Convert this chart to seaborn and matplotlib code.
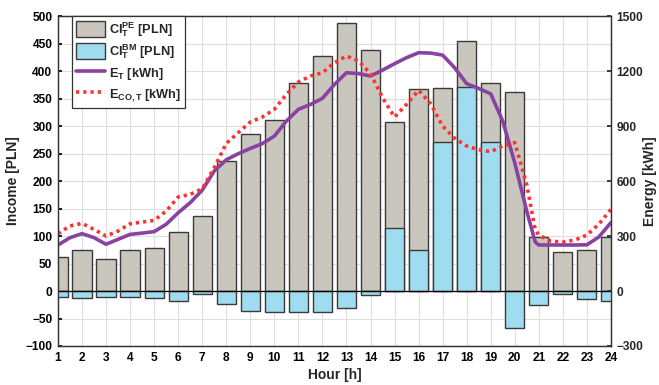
import numpy as np
import pandas as pd
import matplotlib
matplotlib.use("Agg")
import matplotlib.pyplot as plt
import seaborn as sns
from matplotlib.patches import Patch
from matplotlib.lines import Line2D

# ---------------- data ----------------
hours = list(range(1, 25))
ci_pe = [61, 75, 59, 74, 78, 108, 137, 236, 285, 311, 378, 427,
         488, 438, 308, 367, 370, 454, 378, 361, 99, 71, 74, 99]
ci_bm = [-10, -12, -10, -11, -12, -18, -5, -24, -36, -39, -39, -39,
         -30, -8, 115, 75, 271, 371, 271, -67, -25, -6, -14, -18]

t_line = [1, 1.5, 2, 2.5, 3, 3.5, 4, 4.5, 5, 5.5, 6, 6.5, 7, 7.5, 8, 8.5,
          9, 9.5, 10, 10.5, 11, 11.5, 12, 12.5, 13, 13.5, 14, 14.5, 15, 15.5,
          16, 16.5, 17, 17.5, 18, 18.5, 19, 19.5, 20, 20.5, 20.85, 21, 21.5,
          22, 22.5, 23, 23.5, 24]
e_t = [251, 291, 313, 291, 255, 282, 309, 316, 324, 364, 427, 482, 550,
       655, 716, 749, 778, 804, 845, 927, 991, 1018, 1051, 1127, 1191, 1186,
       1173, 1205, 1240, 1273, 1300, 1298, 1287, 1218, 1131, 1105, 1076, 927,
       700, 436, 268, 251, 251, 251, 251, 252, 295, 373]
e_co = [313, 355, 369, 336, 300, 327, 367, 376, 385, 436, 513, 527, 558,
        673, 805, 864, 922, 949, 991, 1073, 1140, 1173, 1191, 1245, 1282,
        1255, 1186, 1055, 949, 1018, 1095, 1022, 900, 833, 791, 771, 760, 791,
        810, 580, 335, 305, 272, 267, 278, 305, 365, 445]

left_ticks = list(range(-100, 501, 50))
right_ticks = [-300, 0, 300, 600, 900, 1200, 1500]

# ---------------- style ----------------
sns.set_theme(style="white")
plt.rcParams['font.family'] = ['Liberation Sans', 'DejaVu Sans']
plt.rcParams['font.weight'] = 'bold'
plt.rcParams['axes.labelweight'] = 'bold'
plt.rcParams['mathtext.fontset'] = 'custom'
plt.rcParams['mathtext.rm'] = 'Liberation Sans:bold'
plt.rcParams['mathtext.it'] = 'Liberation Sans:bold'
plt.rcParams['mathtext.bf'] = 'Liberation Sans:bold'

gray = '#C9C6BE'
blue = '#A0DCF0'
edge = '#3A3A3A'
purple = '#8A42A0'
red = '#FF3030'
tick_fs = 8.6

fig = plt.figure(figsize=(6.59, 3.85), dpi=100)
ax = fig.add_axes([0.088, 0.1013, 0.839, 0.857])

df = pd.DataFrame({'hour': hours, 'pe': ci_pe, 'bm': ci_bm})
sns.barplot(data=df, x='hour', y='pe', native_scale=True, width=0.8,
            color=gray, saturation=1, edgecolor=edge, linewidth=1.0,
            errorbar=None, ax=ax, zorder=2)
sns.barplot(data=df, x='hour', y='bm', native_scale=True, width=0.8,
            color=blue, saturation=1, edgecolor=edge, linewidth=1.0,
            errorbar=None, ax=ax, zorder=3)
ax.axhline(0, color='black', lw=0.9, zorder=4)

ax.set_xlim(1, 24)
ax.set_ylim(-100, 500)
ax.set_xticks(hours)
ax.set_xticklabels([str(h) for h in hours])
ax.set_yticks(left_ticks)
ax.grid(True, color='#DEDEDE', lw=0.8, zorder=0)
ax.set_axisbelow(True)
ax.set_xlabel('Hour [h]', fontsize=10, fontweight='bold', labelpad=3)
ax.set_ylabel('Income [PLN]', fontsize=10, fontweight='bold', labelpad=4)
ax.tick_params(axis='both', direction='in', length=3, labelsize=tick_fs,
               colors='black', pad=4)
for lab in ax.get_xticklabels() + ax.get_yticklabels():
    lab.set_fontweight('bold')
for s in ax.spines.values():
    s.set_color('#333333')
    s.set_linewidth(0.9)

ax2 = ax.twinx()
ldf = pd.DataFrame({'t': t_line, 'et': e_t, 'eco': e_co})
sns.lineplot(data=ldf, x='t', y='et', ax=ax2, color=purple, lw=2.6,
             sort=False)
sns.lineplot(data=ldf, x='t', y='eco', ax=ax2, color=red, lw=2.6,
             linestyle=(0, (0.9, 1.1)), sort=False)
ax2.set_ylim(-300, 1500)
ax2.set_yticks(right_ticks)
ax2.set_xlim(1, 24)
ax2.set_ylabel('Energy [kWh]', fontsize=10, fontweight='bold', labelpad=0)
ax2.tick_params(axis='y', direction='in', length=3, labelsize=tick_fs, pad=4)
for lab in ax2.get_yticklabels():
    lab.set_fontweight('bold')
for s in ax2.spines.values():
    s.set_color('#333333')
    s.set_linewidth(0.9)

handles = [
    Patch(facecolor=gray, edgecolor=edge, linewidth=1.0),
    Patch(facecolor=blue, edgecolor=edge, linewidth=1.0),
    Line2D([], [], color=purple, lw=2.6),
    Line2D([], [], color=red, lw=2.6, linestyle=(0, (0.9, 1.1))),
]
labels = [r'CI$_{T}^{PE}$ [PLN]', r'CI$_{T}^{BM}$ [PLN]',
          r'E$_{T}$ [kWh]', r'E$_{CO,T}$ [kWh]']
leg = ax2.legend(handles, labels, loc='upper left',
                 bbox_to_anchor=(0.025, 1.0), borderaxespad=0,
                 fontsize=9.2, handlelength=2.3, handleheight=1.55,
                 labelspacing=0.3, handletextpad=0.3, borderpad=0.3,
                 fancybox=False, framealpha=1, edgecolor='#333333')
leg.get_frame().set_linewidth(0.9)
for txt in leg.get_texts():
    txt.set_fontweight('bold')

fig.savefig('out.png', dpi=100)
